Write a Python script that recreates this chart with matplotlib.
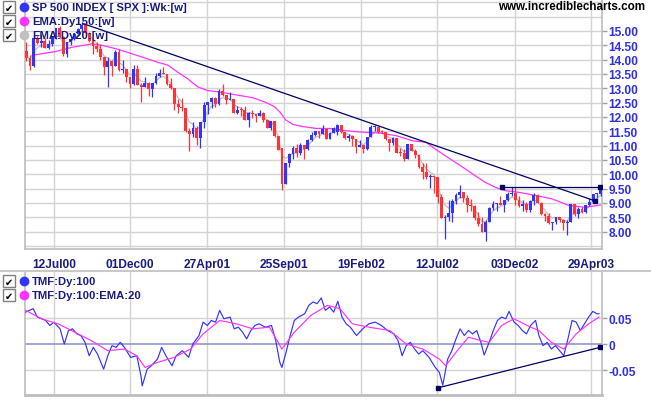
import matplotlib
matplotlib.use("Agg")
import matplotlib.pyplot as plt
import numpy as np
from matplotlib.patches import Rectangle

# ---------------- data ----------------
date_labels = ["12Jul00", "01Dec00", "27Apr01", "25Sep01", "19Feb02", "12Jul02", "03Dec02", "29Apr03"]
date_pos = [7.55, 28.03, 48.79, 69.46, 90.3, 110.97, 131.91, 152.4]

opens = [14.30, 14.06, 13.78, 14.77, 14.57, 14.64, 14.41, 14.55, 14.78, 15.10,
         14.80, 14.19, 14.62, 14.71, 14.91, 15.07, 15.20, 14.94, 14.65, 14.49,
         14.36, 14.08, 13.74, 13.96, 13.79, 14.26, 13.65, 13.67, 13.41, 13.15,
         13.69, 13.12, 13.05, 13.20, 12.98, 13.18, 13.42, 13.54, 13.49, 13.14,
         13.01, 12.45, 12.34, 12.33, 11.50, 11.39, 11.60, 11.28, 11.83, 12.42,
         12.53, 12.66, 12.45, 12.91, 12.77, 12.60, 12.64, 12.14, 12.25, 12.24,
         11.90, 12.15, 12.10, 12.05, 12.14, 11.90, 11.61, 11.85, 11.34, 10.92,
         9.66, 10.40, 10.71, 10.92, 10.73, 11.04, 10.87, 11.20, 11.38, 11.50,
         11.39, 11.58, 11.24, 11.44, 11.48, 11.72, 11.46, 11.27, 11.33, 11.22,
         10.96, 11.04, 10.89, 11.31, 11.64, 11.66, 11.48, 11.47, 11.22, 11.11,
         11.25, 10.76, 10.73, 10.54, 11.06, 10.83, 10.67, 10.27, 10.07, 9.90,
         9.90, 9.89, 9.21, 8.47, 8.52, 8.65, 9.08, 9.28, 9.40, 9.16,
         8.93, 8.89, 8.46, 8.27, 8.00, 8.35, 8.84, 8.97, 9.00, 8.94,
         9.10, 9.30, 9.36, 9.12, 8.89, 8.95, 8.75, 9.08, 9.27, 9.01,
         8.61, 8.56, 8.29, 8.34, 8.51, 8.41, 8.29, 8.33, 8.95, 8.63,
         8.78, 8.68, 8.93, 9.05, 9.30, 9.33]

highs = [14.62, 14.15, 14.78, 14.81, 14.88, 14.75, 14.67, 14.81, 15.12, 15.17,
         14.81, 14.63, 14.75, 14.93, 15.10, 15.30, 15.20, 14.96, 14.67, 14.61,
         14.55, 14.08, 14.08, 14.00, 14.32, 14.38, 13.99, 13.67, 13.41, 13.80,
         13.80, 13.20, 13.40, 13.21, 13.12, 13.54, 13.68, 13.76, 13.51, 13.36,
         13.02, 12.63, 12.67, 12.33, 11.60, 11.83, 11.69, 11.83, 12.53, 12.53,
         12.68, 12.68, 12.96, 13.16, 12.77, 12.86, 12.64, 12.40, 12.36, 12.39,
         12.18, 12.25, 12.11, 12.26, 12.18, 11.93, 11.85, 11.86, 11.35, 10.92,
         10.40, 10.74, 10.99, 11.07, 11.10, 11.04, 11.24, 11.46, 11.51, 11.50,
         11.73, 11.58, 11.47, 11.65, 11.76, 11.72, 11.46, 11.39, 11.38, 11.22,
         11.21, 11.04, 11.31, 11.73, 11.73, 11.70, 11.54, 11.47, 11.22, 11.30,
         11.25, 10.93, 10.90, 11.07, 11.06, 10.87, 10.70, 10.40, 10.40, 10.02,
         9.94, 9.89, 9.32, 8.59, 9.12, 9.14, 9.35, 9.63, 9.40, 9.27,
         9.15, 8.92, 8.70, 8.51, 8.42, 8.85, 9.08, 9.01, 9.25, 9.10,
         9.37, 9.55, 9.55, 9.25, 9.11, 9.02, 9.11, 9.35, 9.32, 9.04,
         8.65, 8.64, 8.35, 8.52, 8.52, 8.43, 8.42, 8.95, 8.96, 8.85,
         8.85, 8.94, 9.19, 9.31, 9.35, 9.47]

lows = [13.97, 13.65, 13.73, 14.54, 14.45, 14.40, 14.38, 14.48, 14.71, 14.76,
        14.13, 14.11, 14.51, 14.68, 14.88, 14.97, 14.89, 14.60, 14.21, 14.25,
        13.98, 13.45, 13.05, 13.43, 13.79, 13.60, 13.53, 13.23, 13.00, 13.13,
        13.10, 12.54, 13.05, 12.74, 12.70, 13.15, 13.38, 13.50, 13.10, 12.98,
        12.23, 12.15, 12.20, 11.48, 10.81, 11.31, 11.03, 10.91, 11.63, 12.10,
        12.33, 12.36, 12.41, 12.73, 12.46, 12.60, 12.14, 12.10, 12.03, 11.90,
        11.65, 11.96, 11.83, 12.02, 11.84, 11.60, 11.56, 11.31, 10.85, 9.44,
        9.65, 10.26, 10.53, 10.62, 10.67, 10.54, 10.84, 11.16, 11.33, 11.25,
        11.39, 11.23, 11.24, 11.44, 11.36, 11.45, 11.24, 11.17, 11.00, 10.74,
        10.94, 10.74, 10.84, 11.31, 11.52, 11.44, 11.44, 11.20, 10.81, 11.02,
        10.76, 10.63, 10.48, 10.53, 10.80, 10.58, 10.22, 9.82, 9.85, 9.52,
        9.36, 9.00, 8.46, 7.76, 8.38, 8.34, 8.96, 9.18, 9.04, 8.70,
        8.71, 8.42, 8.21, 8.00, 7.69, 8.35, 8.75, 8.71, 8.93, 8.68,
        9.06, 9.24, 8.92, 8.87, 8.71, 8.70, 8.69, 8.93, 9.00, 8.59,
        8.38, 8.28, 8.06, 8.26, 8.32, 8.07, 7.89, 8.33, 8.55, 8.47,
        8.64, 8.65, 8.88, 9.00, 9.18, 9.25]

closes = [14.06, 13.78, 14.77, 14.57, 14.64, 14.41, 14.55, 14.78, 15.10, 14.80,
          14.19, 14.62, 14.71, 14.91, 15.07, 15.20, 14.94, 14.65, 14.49, 14.36,
          14.08, 13.74, 13.96, 13.79, 14.26, 13.65, 13.67, 13.41, 13.15, 13.69,
          13.12, 13.05, 13.20, 12.98, 13.18, 13.42, 13.54, 13.49, 13.14, 13.01,
          12.45, 12.34, 12.33, 11.50, 11.39, 11.60, 11.28, 11.83, 12.42, 12.53,
          12.66, 12.45, 12.91, 12.77, 12.60, 12.64, 12.14, 12.25, 12.24, 11.90,
          12.15, 12.10, 12.05, 12.14, 11.90, 11.61, 11.85, 11.34, 10.85, 9.66,
          10.40, 10.71, 10.92, 10.73, 11.04, 10.87, 11.20, 11.38, 11.50, 11.39,
          11.58, 11.24, 11.44, 11.61, 11.72, 11.46, 11.27, 11.33, 11.22, 10.96,
          11.04, 10.89, 11.31, 11.64, 11.66, 11.48, 11.47, 11.22, 11.11, 11.25,
          10.76, 10.73, 10.54, 11.06, 10.83, 10.67, 10.27, 10.07, 9.90, 9.90,
          9.89, 9.21, 8.47, 8.52, 8.65, 9.08, 9.28, 9.40, 9.16, 8.93,
          8.89, 8.46, 8.27, 8.00, 8.35, 8.84, 8.97, 9.00, 8.94, 9.10,
          9.30, 9.36, 9.12, 8.89, 8.95, 8.75, 9.08, 9.27, 9.01, 8.61,
          8.56, 8.29, 8.34, 8.51, 8.41, 8.29, 8.33, 8.95, 8.63, 8.78,
          8.68, 8.93, 9.05, 9.30, 9.33, 9.44]

ema20 = [14.15, 14.00, 14.31, 14.41, 14.50, 14.46, 14.50, 14.61, 14.81, 14.81,
         14.56, 14.58, 14.63, 14.74, 14.87, 15.00, 14.98, 14.85, 14.71, 14.57,
         14.37, 14.12, 14.06, 13.95, 14.07, 13.90, 13.81, 13.65, 13.45, 13.55,
         13.38, 13.25, 13.23, 13.13, 13.15, 13.26, 13.37, 13.42, 13.31, 13.19,
         12.89, 12.67, 12.53, 12.12, 11.83, 11.74, 11.56, 11.67, 11.97, 12.19,
         12.38, 12.41, 12.61, 12.67, 12.64, 12.64, 12.44, 12.36, 12.31, 12.15,
         12.15, 12.13, 12.10, 12.12, 12.03, 11.86, 11.86, 11.65, 11.33, 10.66,
         10.56, 10.62, 10.74, 10.74, 10.86, 10.86, 11.00, 11.15, 11.29, 11.33,
         11.43, 11.35, 11.39, 11.48, 11.58, 11.53, 11.43, 11.39, 11.32, 11.18,
         11.12, 11.03, 11.14, 11.34, 11.47, 11.47, 11.47, 11.37, 11.27, 11.26,
         11.06, 10.93, 10.77, 10.89, 10.87, 10.79, 10.58, 10.38, 10.19, 10.07,
         10.00, 9.68, 9.20, 8.93, 8.82, 8.92, 9.06, 9.20, 9.18, 9.08,
         9.00, 8.78, 8.58, 8.35, 8.35, 8.55, 8.72, 8.83, 8.87, 8.96,
         9.10, 9.20, 9.17, 9.06, 9.02, 8.91, 8.98, 9.10, 9.06, 8.88,
         8.75, 8.57, 8.48, 8.49, 8.46, 8.39, 8.37, 8.60, 8.61, 8.68,
         8.68, 8.78, 8.89, 9.05, 9.16, 9.27]

ema150_pos = [1.9, 7.8, 12.3, 17.7, 20.4, 24.3, 30.1, 35.5, 38.2, 40.9,
              43.6, 46.3, 49.0, 51.7, 55.8, 61.2, 64.5, 67.0, 68.5, 70.0,
              72.0, 74.5, 78.3, 81.9, 86.4, 90.8, 95.3, 99.8, 104.3, 107.9,
              110.4, 113.1, 115.8, 118.5, 121.2, 123.9, 126.6, 129.3, 133.1, 137.6,
              142.0, 146.5, 151.0, 155.0]
ema150 = [14.16, 14.28, 14.43, 14.55, 14.50, 14.38, 14.14, 13.91, 13.81, 13.56,
          13.33, 13.05, 12.92, 12.88, 12.79, 12.67, 12.52, 12.36, 12.17, 11.90,
          11.74, 11.67, 11.60, 11.60, 11.52, 11.47, 11.44, 11.35, 11.17, 11.12,
          10.88, 10.65, 10.42, 10.19, 9.95, 9.72, 9.55, 9.43, 9.37, 9.26,
          9.14, 8.91, 8.85, 8.93]

tmf_pos = [-0.15, 1.86, 2.98, 4.10, 5.22, 6.34, 7.46, 9.13, 10.25, 11.37,
           12.49, 13.61, 14.73, 15.85, 16.97, 18.09, 19.21, 20.88, 22.0, 23.12,
           24.24, 25.36, 26.48, 28.16, 29.83, 30.95, 31.29, 32.63, 33.75, 35.43,
           36.55, 37.67, 39.34, 40.46, 42.14, 43.82, 44.94, 46.62, 47.74, 48.86,
           49.97, 51.09, 52.21, 53.33, 55.01, 56.13, 57.25, 58.37, 59.49, 60.61,
           61.72, 62.84, 64.52, 66.20, 67.32, 68.44, 69.0, 70.12, 71.23, 72.35,
           73.47, 75.15, 76.27, 77.39, 78.51, 79.63, 80.74, 81.86, 82.98, 84.10,
           85.22, 86.34, 87.46, 89.14, 90.81, 92.49, 94.17, 95.85, 97.53, 99.21,
           100.33, 101.45, 102.56, 103.68, 104.80, 105.92, 107.04, 108.72, 110.40, 111.52,
           112.41, 113.75, 114.87, 115.99, 117.11, 118.23, 119.35, 120.47, 121.58, 122.70,
           123.60, 124.94, 126.06, 127.18, 128.30, 129.42, 130.31, 131.66, 132.78, 133.89,
           135.01, 136.13, 137.47, 138.37, 139.49, 140.60, 141.72, 142.84, 143.96, 145.08,
           146.20, 147.32, 148.44, 149.56, 150.68, 151.80, 152.92, 154.03, 154.59]
tmf = [0.0615, 0.068, 0.052, 0.049, 0.0455, 0.036, 0.042, 0.0295, 0.0006, 0.026,
       0.0295, 0.020, 0.0167, 0.0038, -0.0218, -0.0058, -0.0186, -0.0474, -0.0218, -0.0026,
       -0.0058, 0.0038, -0.0058, -0.025, -0.0218, -0.060, -0.0795, -0.0474, -0.041, -0.028,
       -0.0058, -0.0218, -0.041, -0.0218, -0.0122, -0.025, 0.0006, 0.0167, 0.0423, 0.0359,
       0.0455, 0.0423, 0.0647, 0.0487, 0.0519, 0.0295, 0.0327, 0.0231, 0.0103, 0.0263,
       0.0359, 0.0391, 0.0327, 0.0359, 0.0071, -0.0346, -0.0442, -0.0154, 0.0167, 0.0455,
       0.0519, 0.0583, 0.0744, 0.0808, 0.0776, 0.0885, 0.0647, 0.0712, 0.0615, 0.0820,
       0.0519, 0.0391, 0.0327, 0.0167, 0.0295, 0.0391, 0.0423, 0.0359, 0.0263, 0.0199,
       0.0071, -0.0218, -0.0026, 0.0038, -0.009, -0.0186, -0.0122, -0.025, -0.0442, -0.0538,
       -0.0782, -0.0282, -0.0122, 0.0103, 0.0295, 0.0167, 0.0263, 0.0199, 0.0263, 0.0038,
       -0.0205, 0.0038, 0.0263, 0.0455, 0.0519, 0.0487, 0.0628, 0.0423, 0.0359, 0.0263,
       0.0199, 0.0359, 0.0455, 0.0167, -0.0026, 0.0038, -0.009, -0.0026, -0.0122, -0.0218,
       0.0103, 0.0455, 0.0423, 0.0263, 0.0391, 0.0519, 0.0628, 0.0583, 0.0583]

tmf_ema_pos = [-0.15, 4.10, 8.58, 13.05, 17.53, 22.0, 26.48, 29.83, 32.07, 35.43,
               39.90, 44.38, 47.74, 52.21, 56.69, 61.16, 65.64, 69.0, 72.35, 76.83,
               81.30, 84.66, 88.02, 92.49, 98.09, 102.56, 107.04, 111.52, 113.19, 115.99,
               119.35, 122.70, 124.94, 128.30, 131.66, 136.13, 138.37, 141.72, 145.08, 148.44,
               151.80, 154.59]
tmf_ema = [0.0647, 0.0487, 0.0391, 0.0231, 0.0071, -0.0122, -0.009, -0.0218, -0.0442, -0.0346,
           -0.025, -0.009, 0.0199, 0.0455, 0.0391, 0.0295, 0.0327, -0.009, 0.0231, 0.0551,
           0.0744, 0.068, 0.0391, 0.0327, 0.0263, 0.0006, -0.009, -0.0282, -0.041, -0.0154,
           0.0135, 0.0071, 0.0038, 0.0359, 0.0487, 0.0327, 0.0263, 0.0038, -0.009, 0.0199,
           0.0391, 0.0519]

price_ticks = [8.0, 8.5, 9.0, 9.5, 10.0, 10.5, 11.0, 11.5, 12.0, 12.5, 13.0, 13.5, 14.0, 14.5, 15.0]
extra_grid = [7.5, 15.5, 16.0]
tmf_ticks = [0.05, 0.0, -0.05]
tmf_tick_labels = ["0.05", "0", "-0.05"]

trend_x = [15.3, 153.6]
trend_y = [15.26, 9.07]
resist_x = [128.5, 154.8]
resist_y = [9.55, 9.55]
tmf_trend_x = [111.2, 154.8]
tmf_trend_y = [-0.083, -0.006]

legend_main = ["SP 500 INDEX [ SPX ]:Wk:[w]", "EMA:Dy150:[w]", "EMA:Dy20:[w]"]
legend_tmf = ["TMF:Dy:100", "TMF:Dy:100:EMA:20"]

# ---------------- style ----------------
BLUE = "#3333ff"
RED = "#ff3333"
MAGENTA = "#ff33ff"
GREYLINE = "#c0c0c0"
NAVY = "#000066"
TXT = "#1a1a80"
YLAB = "#2f2fe6"
GRID = "#d4d4d4"
FONT = "Liberation Sans"

W, H = 651, 406
fig = plt.figure(figsize=(W / 100, H / 100), dpi=100)
fig.patch.set_facecolor("white")


def fbox(x0, y0, x1, y1):
    return [x0 / W, 1 - y1 / H, (x1 - x0) / W, (y1 - y0) / H]


ax = fig.add_axes(fbox(25, 0, 602, 250))
ax2 = fig.add_axes(fbox(25, 273, 602, 396))

XL = (-0.35, 155.4)

# ----- main panel -----
o = np.array(opens); h = np.array(highs); l = np.array(lows); c = np.array(closes)
idx = np.arange(len(c))
cols = np.where(c >= o, BLUE, RED)

for g in extra_grid:
    ax.axhline(g, color=GRID, lw=1, zorder=0)
ax.grid(True, color=GRID, lw=1, zorder=0)
ax.set_axisbelow(True)

ax.plot(idx, ema20, color=GREYLINE, lw=0.9, zorder=2)
ax.plot(ema150_pos, ema150, color=MAGENTA, lw=0.9, zorder=2)
ax.vlines(idx, l, h, colors=cols, lw=0.9, zorder=3)
bh = np.maximum(np.abs(c - o), 0.035)
ax.bar(idx, bh, bottom=np.minimum(o, c), width=0.76, color=cols, lw=0, zorder=4)

ax.plot(trend_x, trend_y, color=NAVY, lw=0.9, zorder=5)
ax.plot(resist_x, resist_y, color=NAVY, lw=0.9, zorder=5)
ax.plot([trend_x[1]], [trend_y[1]], marker="s", ms=2.2, color=NAVY, zorder=6)
ax.plot(resist_x, resist_y, ls="none", marker="s", ms=2.2, color=NAVY, zorder=6)

ax.set_xlim(*XL)
ax.set_ylim(7.395, 16.116)
ax.yaxis.tick_right()
ax.set_yticks(price_ticks)
ax.set_yticklabels([f"{v:.2f}" for v in price_ticks])
ax.set_xticks(date_pos)
ax.set_xticklabels(date_labels)
ax.tick_params(axis="y", length=3.6, width=1, color="#a0a0a0", pad=1.2,
               labelcolor=YLAB, labelsize=8.6)
ax.tick_params(axis="x", length=0, pad=6.5, labelcolor=TXT, labelsize=8.6)
for t in ax.get_yticklabels() + ax.get_xticklabels():
    t.set_fontweight("bold"); t.set_family(FONT)
for s in ["left", "right", "bottom"]:
    ax.spines[s].set_color("#bdbdbd"); ax.spines[s].set_linewidth(1.2)
ax.spines["top"].set_visible(False)

# ----- TMF panel -----
ax2.axhline(0.05, color=GRID, lw=1, zorder=0)
ax2.axhline(-0.05, color=GRID, lw=1, zorder=0)
ax2.axhline(0.0, color="#8c8cd0", lw=1.1, zorder=1)
ax2.grid(True, axis="x", color=GRID, lw=1, zorder=0)
ax2.set_axisbelow(True)
ax2.plot(tmf_pos, tmf, color=BLUE, lw=0.85, zorder=3)
ax2.plot(tmf_ema_pos, tmf_ema, color=MAGENTA, lw=0.85, zorder=4)
ax2.plot(tmf_trend_x, tmf_trend_y, color=NAVY, lw=0.9, zorder=5)
ax2.plot(tmf_trend_x, tmf_trend_y, ls="none", marker="s", ms=2.2, color=NAVY, zorder=6)
ax2.set_xlim(*XL)
ax2.set_ylim(-0.0968, 0.138)
ax2.yaxis.tick_right()
ax2.set_yticks(tmf_ticks)
ax2.set_yticklabels(tmf_tick_labels)
ax2.set_xticks(date_pos)
ax2.set_xticklabels([])
ax2.tick_params(axis="y", length=3.6, width=1, color="#a0a0a0", pad=1.2,
                labelcolor=YLAB, labelsize=8.6)
ax2.tick_params(axis="x", length=0)
for t in ax2.get_yticklabels():
    t.set_fontweight("bold"); t.set_family(FONT)
for s in ["left", "right", "bottom"]:
    ax2.spines[s].set_color("#bdbdbd"); ax2.spines[s].set_linewidth(1.2)
ax2.spines["bottom"].set_linewidth(2)
ax2.spines["top"].set_visible(False)

# ----- overlay (legend, watermark, separator) -----
ov = fig.add_axes([0, 0, 1, 1], zorder=10)
ov.set_xlim(0, W); ov.set_ylim(H, 0); ov.axis("off")
ov.plot([0, W], [272, 272], color="#c8c8c8", lw=1.5)


def legend_row(y, color, text):
    ov.add_patch(Rectangle((3, y - 6), 12, 12, facecolor="white", edgecolor="#808080", lw=1))
    ov.text(9, y + 0.5, "\u2714", ha="center", va="center", fontsize=7, color="black",
            family="DejaVu Sans")
    ov.plot([24], [y], marker="o", ms=6, color=color, mec=color)
    ov.text(32, y, text, ha="left", va="center", fontsize=8.1, fontweight="bold",
            color=TXT, family=FONT)


legend_row(8, BLUE, legend_main[0])
legend_row(22, MAGENTA, legend_main[1])
legend_row(36, GREYLINE, legend_main[2])
legend_row(282, BLUE, legend_tmf[0])
legend_row(296, MAGENTA, legend_tmf[1])

ov.text(645, 7.5, "www.incrediblecharts.com", ha="right", va="center", fontsize=8.4,
        fontweight="bold", color="black", family=FONT)

fig.savefig("out.png", dpi=100, facecolor="white")
